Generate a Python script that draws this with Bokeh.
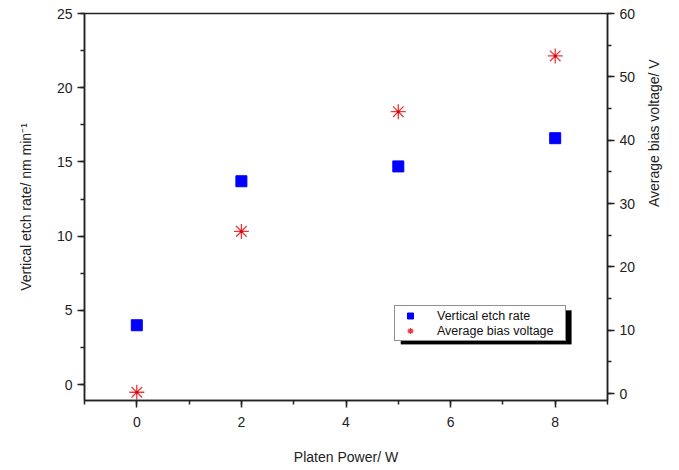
import math
from bokeh.plotting import figure
from bokeh.models import Range1d, LinearAxis, SingleIntervalTicker, Legend, LegendItem, BoxAnnotation
from bokeh.embed import file_html
from bokeh.resources import INLINE

power = [0, 2, 5, 8]
etch_rate = [4.0, 13.7, 14.7, 16.6]
bias_voltage = [0.2, 25.6, 44.5, 53.3]

FONT = "Liberation Sans"

p = figure(width=675, height=468, output_backend="svg", toolbar_location=None,
           x_range=Range1d(-1, 9), y_range=Range1d(-1.07, 25),
           min_border_left=84, min_border_right=68, min_border_top=13, min_border_bottom=68)
p.extra_y_ranges = {"bias": Range1d(-1.1, 60)}
p.grid.visible = False
p.outline_line_color = "#222222"
p.outline_line_width = 1.5
p.background_fill_color = "white"

def style(ax):
    ax.axis_line_color = "#222222"
    ax.axis_line_width = 1.5
    ax.major_tick_line_color = "#222222"
    ax.minor_tick_line_color = "#222222"
    ax.major_tick_line_width = 1.5
    ax.minor_tick_line_width = 1.5
    ax.major_tick_out = 7
    ax.major_tick_in = 0
    ax.minor_tick_out = 4
    ax.minor_tick_in = 0
    ax.major_label_text_font = FONT
    ax.major_label_text_font_size = "14px"
    ax.major_label_text_color = "#222222"
    ax.axis_label_text_font = FONT
    ax.axis_label_text_font_size = "14px"
    ax.axis_label_text_font_style = "normal"
    ax.axis_label_text_color = "#222222"

p.xaxis.ticker = SingleIntervalTicker(interval=2, num_minor_ticks=2)
p.xaxis.axis_label = "Platen Power/ W"
p.yaxis.ticker = SingleIntervalTicker(interval=5, num_minor_ticks=2)
p.yaxis.axis_label = "Vertical etch rate/ nm min\u207b\u00b9"
style(p.xaxis[0])
style(p.yaxis[0])
p.xaxis.major_label_standoff = 9
p.xaxis.axis_label_standoff = 19
p.yaxis.axis_label_standoff = 20

ax2 = LinearAxis(y_range_name="bias", axis_label="Average bias voltage/ V",
                 ticker=SingleIntervalTicker(interval=10, num_minor_ticks=2))
style(ax2)
ax2.axis_label_standoff = 16
ax2.axis_label_orientation = math.pi / 2
p.add_layout(ax2, "right")

r1 = p.scatter(power, etch_rate, marker="square", size=11, fill_color="#0000ff",
               line_color="#0000ff")
r2 = p.scatter(power, bias_voltage, y_range_name="bias", marker="asterisk", size=15,
               line_color="#e8383d", line_width=1.3)
r3 = p.scatter(power, bias_voltage, y_range_name="bias", marker="circle", size=3,
               fill_color="#e00000", line_color=None)

shadow = BoxAnnotation(left=5.05, right=8.31, bottom=2.72, top=5.0,
                       fill_color="black", fill_alpha=1.0, line_color="black")
p.add_layout(shadow)

legend = Legend(items=[LegendItem(label="Vertical etch rate", renderers=[r1]),
                       LegendItem(label="Average bias voltage", renderers=[r2])],
                location=(310, 59), background_fill_color="white", background_fill_alpha=1.0,
                border_line_color="#222222", border_line_width=1,
                label_text_font=FONT, label_text_font_size="12.5px", label_text_color="#111111",
                glyph_width=26, glyph_height=15, label_height=15, spacing=0,
                padding=2, margin=0, label_standoff=14, label_width=126)
p.add_layout(legend)

open("out.html", "w").write(file_html(p, INLINE))
